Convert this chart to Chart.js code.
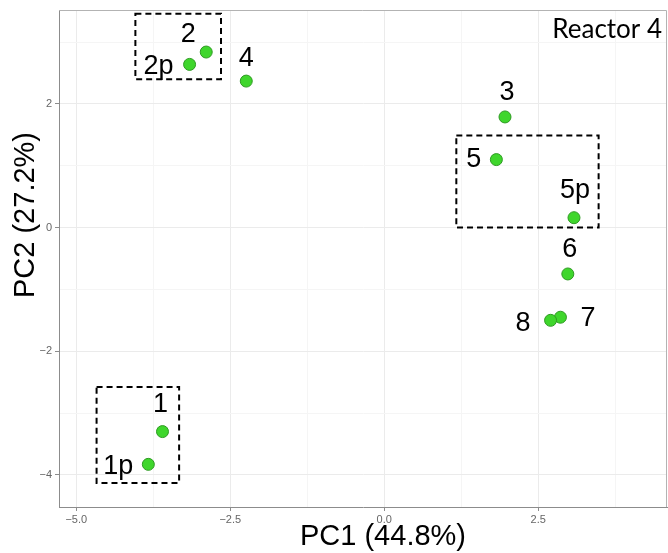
<!DOCTYPE html>
<html>
<head>
<meta charset="utf-8">
<script src="https://cdn.jsdelivr.net/npm/chart.js@4"></script>
<style>
    html, body { margin: 0; padding: 0; background: #ffffff; }
    #wrap { width: 668px; height: 553px; }
</style>
</head>
<body>
<div id="wrap"><canvas id="pcaChart" width="668" height="553"></canvas></div>
<script>
// Data
const sampleLabels = ['2', '2p', '4', '3', '5', '5p', '6', '7', '8', '1', '1p'];
const pc1Values = [-2.89, -3.16, -2.24, 1.96, 1.82, 3.08, 2.98, 2.86, 2.70, -3.60, -3.83];
const pc2Values = [2.84, 2.64, 2.37, 1.79, 1.10, 0.16, -0.75, -1.45, -1.50, -3.30, -3.83];
// dashed groups: [x1, x2, y1, y2] in PC units
const groupBoxes = [
    [-4.04, -2.65, 2.40, 3.46],
    [1.17, 3.48, 0.00, 1.49],
    [-4.67, -3.33, -4.13, -2.58]
];
const xTickValues = [-5.0, -2.5, 0.0, 2.5];
const yTickValues = [-4, -2, 0, 2];
const xTitle = 'PC1 (44.8%)';
const yTitle = 'PC2 (27.2%)';
const panelTitle = 'Reactor 4';

// label nudges in px (dx, dy from point centre), text anchor
const labelNudge = [
    [-18, -17, 'center'], [-16, 2, 'right'], [0, -23, 'center'], [2, -24, 'center'],
    [-15, 0, 'right'], [1, -27, 'center'], [2, -24, 'center'], [20, 1, 'left'],
    [-20, 3, 'right'], [-2, -27, 'center'], [-15, 2, 'right']
];

const points = pc1Values.map((x, i) => ({ x: x, y: pc2Values[i] }));

const isMajorX = v => xTickValues.some(t => Math.abs(t - v) < 1e-6);
const isMajorY = v => yTickValues.some(t => Math.abs(t - v) < 1e-6);
const minus = s => s.replace('-', '\u2212');

const decorPlugin = {
    id: 'decor',
    beforeDatasetsDraw(chart) {
        const { ctx, chartArea: a } = chart;
        ctx.save();
        ctx.strokeStyle = '#b3b3b3';
        ctx.lineWidth = 1;
        ctx.beginPath();
        ctx.moveTo(a.left, a.top + 0.5);
        ctx.lineTo(a.right - 0.5, a.top + 0.5);
        ctx.lineTo(a.right - 0.5, a.bottom);
        ctx.stroke();
        ctx.restore();
    },
    afterDatasetsDraw(chart) {
        const { ctx, chartArea: a, scales } = chart;
        const xs = scales.x, ys = scales.y;
        ctx.save();

        // dashed group boxes
        ctx.strokeStyle = '#000';
        ctx.lineWidth = 2;
        ctx.setLineDash([6, 4]);
        groupBoxes.forEach(b => {
            const x1 = xs.getPixelForValue(b[0]), x2 = xs.getPixelForValue(b[1]);
            const y1 = ys.getPixelForValue(b[2]), y2 = ys.getPixelForValue(b[3]);
            ctx.strokeRect(Math.min(x1, x2), Math.min(y1, y2), Math.abs(x2 - x1), Math.abs(y2 - y1));
        });
        ctx.setLineDash([]);

        // sample labels
        ctx.fillStyle = '#000';
        ctx.font = '27px "Liberation Sans", Arial, sans-serif';
        ctx.textBaseline = 'middle';
        points.forEach((p, i) => {
            const n = labelNudge[i];
            ctx.textAlign = n[2];
            ctx.fillText(sampleLabels[i], xs.getPixelForValue(p.x) + n[0], ys.getPixelForValue(p.y) + n[1]);
        });

        // panel title
        ctx.font = '26px Lato, "Open Sans", sans-serif';
        ctx.textAlign = 'right';
        ctx.fillText(panelTitle, a.right - 5, 30);

        // axis titles
        ctx.font = '29px "Liberation Sans", Arial, sans-serif';
        ctx.textAlign = 'center';
        ctx.fillText(xTitle, 383, 537);
        ctx.translate(26, 215);
        ctx.rotate(-Math.PI / 2);
        ctx.fillText(yTitle, 0, 0);
        ctx.restore();
    }
};

const pcaChart = new Chart(document.getElementById('pcaChart'), {
    type: 'scatter',
    data: {
        datasets: [{
            data: points,
            backgroundColor: '#3fd62c',
            borderColor: '#2e9a22',
            borderWidth: 1,
            pointRadius: 6,
            pointHoverRadius: 6
        }, {
            data: points,
            pointStyle: 'crossRot',
            borderColor: 'rgba(20, 90, 15, 0.75)',
            borderWidth: 1,
            pointRadius: 3,
            pointHoverRadius: 3
        }]
    },
    options: {
        responsive: false,
        animation: false,
        layout: { autoPadding: false, padding: { top: 10, right: 1, left: 0, bottom: 0 } },
        plugins: {
            legend: { display: false },
            tooltip: { enabled: false }
        },
        scales: {
            x: {
                type: 'linear',
                min: -5.28,
                max: 4.59,
                afterFit: s => { s.height = 46; s.paddingLeft = 0; s.paddingRight = 0; },
                border: { color: '#8c8c8c', width: 1 },
                grid: {
                    color: c => isMajorX(c.tick.value) ? '#ebebeb' : '#f5f5f5',
                    tickColor: c => isMajorX(c.tick.value) ? '#8c8c8c' : 'rgba(0,0,0,0)',
                    tickLength: 4
                },
                ticks: {
                    stepSize: 1.25,
                    includeBounds: false,
                    autoSkip: false,
                    maxRotation: 0,
                    padding: 2,
                    color: '#666666',
                    font: { family: '"Liberation Sans", Arial, sans-serif', size: 11 },
                    callback: v => isMajorX(v) ? minus(v.toFixed(1)) : ''
                }
            },
            y: {
                type: 'linear',
                min: -4.52,
                max: 3.52,
                afterFit: s => { s.width = 59; s.paddingTop = 0; s.paddingBottom = 0; },
                border: { color: '#8c8c8c', width: 1 },
                grid: {
                    color: c => isMajorY(c.tick.value) ? '#ebebeb' : '#f5f5f5',
                    tickColor: c => isMajorY(c.tick.value) ? '#8c8c8c' : 'rgba(0,0,0,0)',
                    tickLength: 4
                },
                ticks: {
                    stepSize: 1,
                    includeBounds: false,
                    autoSkip: false,
                    padding: 3,
                    color: '#666666',
                    font: { family: '"Liberation Sans", Arial, sans-serif', size: 11 },
                    callback: v => isMajorY(v) ? minus(String(v)) : ''
                }
            }
        }
    },
    plugins: [decorPlugin]
});
</script>
</body>
</html>
